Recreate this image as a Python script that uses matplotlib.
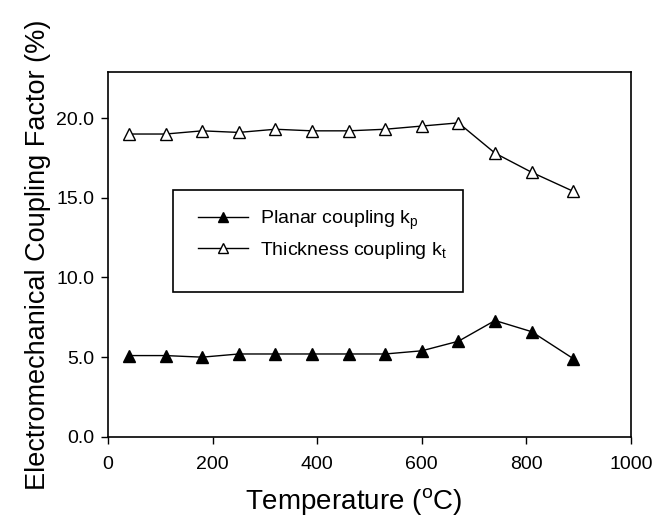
import matplotlib
matplotlib.use("Agg")
import matplotlib.pyplot as plt
from matplotlib.patches import Rectangle

plt.rcParams['font.family'] = ['Liberation Sans', 'DejaVu Sans']
plt.rcParams['mathtext.fontset'] = 'custom'
plt.rcParams['mathtext.rm'] = 'Liberation Sans'

# -------- DATA ----------
temperature = [40, 110, 180, 250, 320, 390, 460, 530, 600, 670, 740, 810, 890]
planar_kp = [5.1, 5.1, 5.0, 5.2, 5.2, 5.2, 5.2, 5.2, 5.4, 6.0, 7.3, 6.6, 4.9]
thickness_kt = [19.0, 19.0, 19.2, 19.1, 19.3, 19.2, 19.2, 19.3, 19.5, 19.7, 17.8, 16.6, 15.4]
x_ticks = [0, 200, 400, 600, 800, 1000]
y_ticks = [0, 5, 10, 15, 20]

# -------- PLOT ----------
fig = plt.figure(figsize=(6.67, 5.17), dpi=100)
ax = fig.add_axes([0.162, 0.155, 0.784, 0.706])

ax.plot(temperature, planar_kp, color="black", lw=1, marker="^",
        ms=8.5, mfc="black", mec="black", label=r"Planar coupling k$_\mathregular{p}$")
ax.plot(temperature, thickness_kt, color="black", lw=1, marker="^",
        ms=8.5, mfc="white", mec="black", mew=1, label=r"Thickness coupling k$_\mathregular{t}$")

ax.set_xlim(0, 1000)
ax.set_ylim(0, 22.9)
ax.set_xticks(x_ticks)
ax.set_yticks(y_ticks)
ax.set_yticklabels([f"{v:.1f}" for v in y_ticks])
ax.tick_params(direction="out", length=5, width=1, labelsize=14, colors="black")
ax.tick_params(axis="x", pad=9)
ax.tick_params(axis="y", pad=5)
for s in ax.spines.values():
    s.set_linewidth(1.2)

ax.set_xlabel(r"Temperature ($^\mathregular{o}$C)", fontsize=20)
ax.xaxis.set_label_coords(0.47, -0.135)
ax.set_ylabel("Electromechanical Coupling Factor (%)", fontsize=19.5, labelpad=4)

# legend box (taller than its entries, as in the original)
fig.patches.append(Rectangle((0.259, 0.435), 0.435, 0.197, transform=fig.transFigure,
                             fill=False, edgecolor="black", lw=1.2))
leg = ax.legend(loc="upper left", bbox_to_anchor=(0.27, 0.63),
                bbox_transform=fig.transFigure, frameon=False, fontsize=14,
                handlelength=2.6, handletextpad=0.6, labelspacing=0.4, markerscale=0.8)

fig.savefig("out.png", dpi=100)
